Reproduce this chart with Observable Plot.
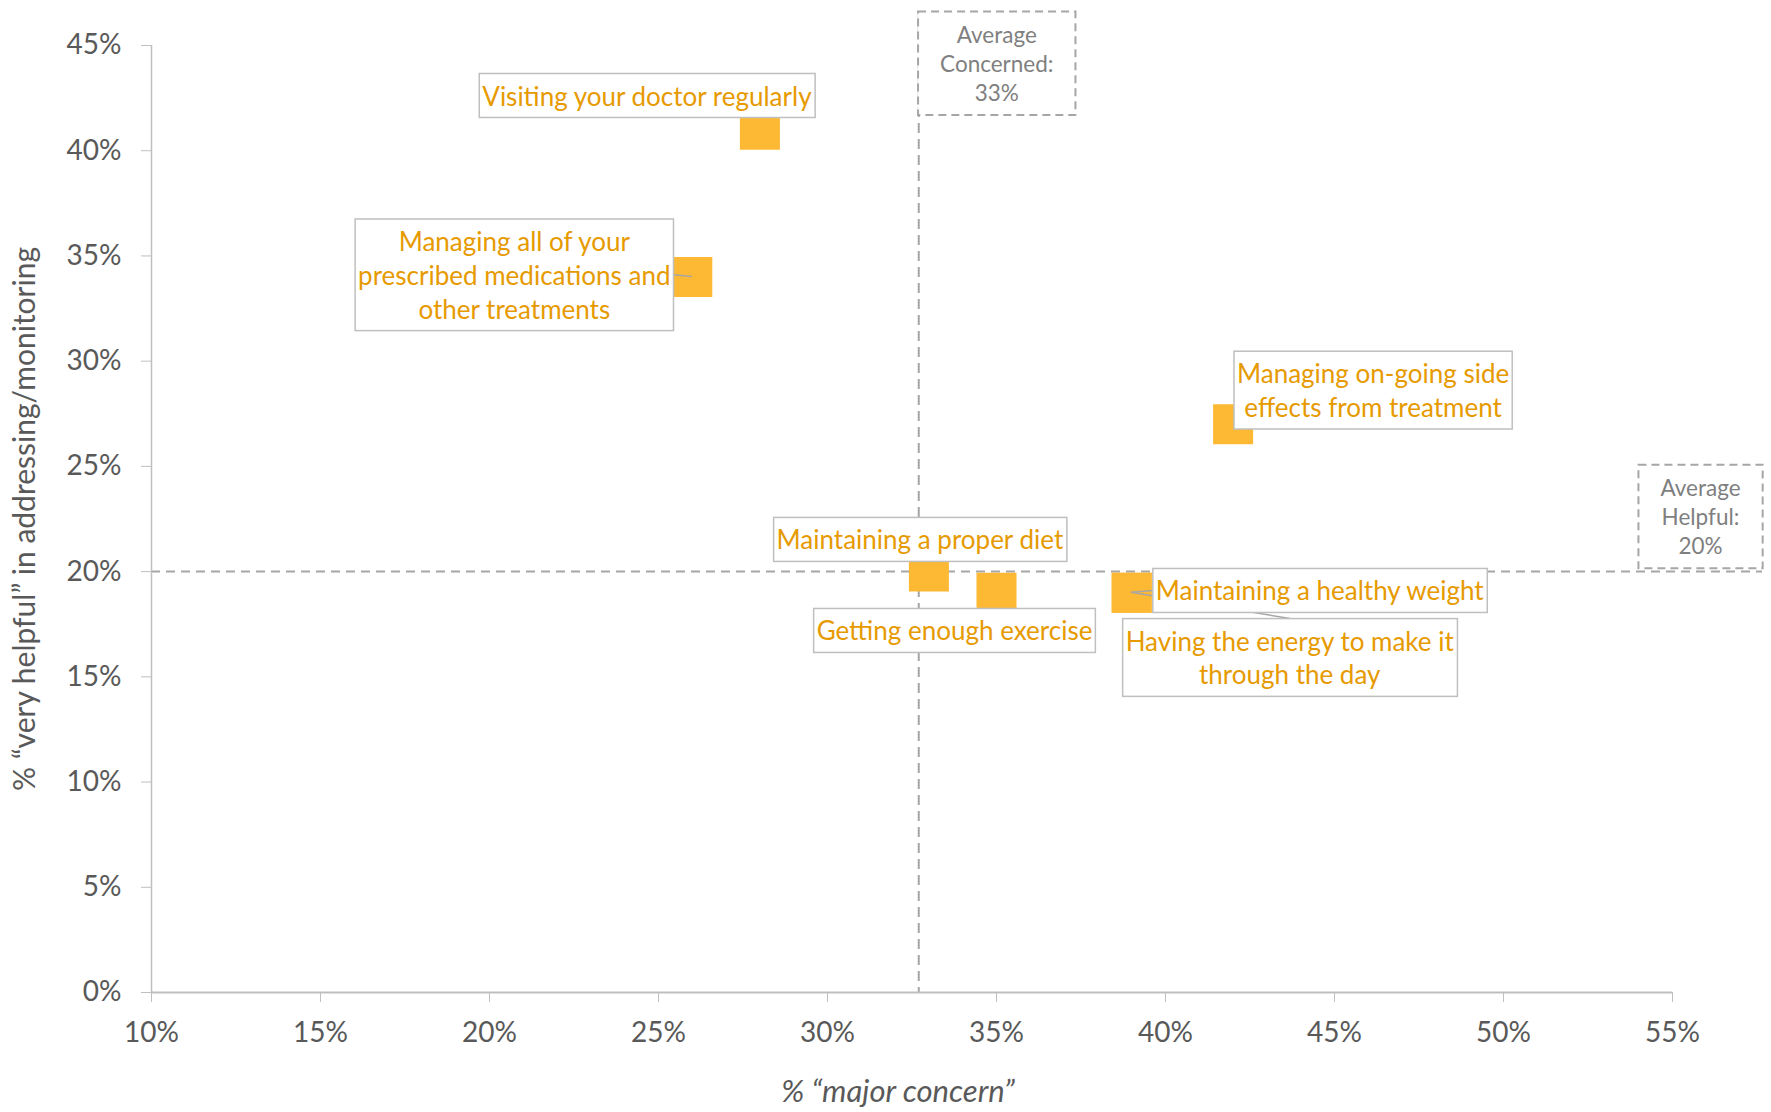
<!DOCTYPE html>
<html><head><meta charset="utf-8">
<script src="https://cdn.jsdelivr.net/npm/d3@7"></script>
<script src="https://cdn.jsdelivr.net/npm/@observablehq/plot@0.6"></script>
<style>body{margin:0;background:#fff} svg{display:block}</style>
</head><body><div id="chart"></div>
<script>
// ---- data ----
const items = [
  "Visiting your doctor regularly",
  "Managing all of your\nprescribed medications and\nother treatments",
  "Managing on-going side\neffects from treatment",
  "Maintaining a proper diet",
  "Getting enough exercise",
  "Maintaining a healthy weight",
  "Having the energy to make it\nthrough the day"
];
const majorConcern = [28, 26, 42, 33, 35, 39, 39];
const veryHelpful  = [41, 34, 27, 20, 19, 19, 19];
const avgConcerned = 32.7;
const avgHelpful = 20;
const xTicks = [10, 15, 20, 25, 30, 35, 40, 45, 50, 55];
const yTicks = [0, 5, 10, 15, 20, 25, 30, 35, 40, 45];
const xLabel = "% \u201cmajor concern\u201d";
const yLabel = "% \u201cvery helpful\u201d in addressing/monitoring";

// ---- layout (pixel offsets of each data label from its point) ----
const labelLayout = [
  {dx: -113, dy: -35, leader: false},
  {dx: -178, dy: -3,  leader: true},
  {dx: 140,  dy: -35, leader: false},
  {dx: -9,   dy: -33, leader: false},
  {dx: -42,  dy: 37,  leader: false},
  {dx: 188,  dy: -3,  leader: true},
  {dx: 158,  dy: 64,  leader: true}
];

const data = items.map((name, i) => ({name, concern: majorConcern[i], helpful: veryHelpful[i]}));

const labelColor = "#E69A00";
const markerColor = "#FDB933";
const axisGray = "#BFBFBF";
const dashGray = "#A6A6A6";
const textGray = "#595959";
const avgTextGray = "#7F7F7F";
const font = "Lato";

const svg = Plot.plot({
  width: 1771,
  height: 1112,
  marginLeft: 151,
  marginRight: 99,
  marginTop: 45,
  marginBottom: 120,
  style: {fontFamily: font, background: "#fff", color: textGray},
  x: {domain: [10, 55]},
  y: {domain: [0, 45]},
  marks: [
    Plot.ruleY([avgHelpful], {y: d => d, stroke: dashGray, strokeWidth: 2, strokeDasharray: "9,6", insetRight: -90}),
    Plot.ruleX([avgConcerned], {x: d => d, stroke: dashGray, strokeWidth: 2, strokeDasharray: "10,6", insetTop: -34}),
    Plot.ruleX([10], {stroke: axisGray, strokeWidth: 1.5}),
    Plot.ruleY([0], {stroke: axisGray, strokeWidth: 2}),
    Plot.axisX({ticks: xTicks, tickSize: 10, tickPadding: 20, tickFormat: d => d + "%", fontSize: 28, label: null, stroke: axisGray, fill: textGray}),
    Plot.axisY({ticks: yTicks, tickSize: 10, tickPadding: 20, tickFormat: d => d + "%", fontSize: 28, label: null, stroke: axisGray, fill: textGray}),
    Plot.dot(data, {x: "concern", y: "helpful", symbol: "square", r: 22.57, fill: markerColor}),
    ...data.map((d, i) => Plot.text([d], {
      x: "concern", y: "helpful", text: "name",
      dx: labelLayout[i].dx, dy: labelLayout[i].dy,
      fill: labelColor, fontSize: 26, lineHeight: 1.3,
      textAnchor: "middle", lineAnchor: "middle", ariaDescription: "point-label"
    })),
    Plot.text([avgConcerned], {
      x: d => d, frameAnchor: "top", dx: 78, dy: 17,
      text: d => `Average\nConcerned:\n${Math.round(d)}%`,
      fill: avgTextGray, fontSize: 22.5, lineHeight: 1.3,
      textAnchor: "middle", lineAnchor: "middle", ariaDescription: "avg-label"
    }),
    Plot.text([avgHelpful], {
      y: d => d, frameAnchor: "right", dx: 28, dy: -56,
      text: d => `Average\nHelpful:\n${Math.round(d)}%`,
      fill: avgTextGray, fontSize: 22.5, lineHeight: 1.3,
      textAnchor: "middle", lineAnchor: "middle", ariaDescription: "avg-label"
    }),
    Plot.text([yLabel], {
      text: d => d, frameAnchor: "left", rotate: -90, dx: -126,
      textAnchor: "middle", lineAnchor: "middle", fontSize: 30, fill: textGray
    }),
    Plot.text([xLabel], {
      text: d => d, frameAnchor: "bottom", dx: -14, dy: 100,
      textAnchor: "middle", lineAnchor: "middle", fontSize: 31, fontStyle: "italic", fill: textGray
    })
  ]
});
document.getElementById("chart").append(svg);

// ---- label boxes and leader lines ----
const X = svg.scale("x"), Y = svg.scale("y");
const sr = svg.getBoundingClientRect();
function boxOf(el, padX, padY) {
  const r = el.getBoundingClientRect();
  return {x0: r.left - sr.left - padX, x1: r.right - sr.left + padX,
          y0: r.top - sr.top - padY, y1: r.bottom - sr.top + padY};
}
const ns = "http://www.w3.org/2000/svg";
const labelGroups = Array.from(svg.querySelectorAll('g[aria-description="point-label"]'));
if (labelGroups.length) {
  const leaderG = document.createElementNS(ns, "g");
  const boxG = document.createElementNS(ns, "g");
  labelGroups[0].parentNode.insertBefore(leaderG, labelGroups[0]);
  labelGroups[0].parentNode.insertBefore(boxG, labelGroups[0]);
  labelGroups.forEach((g, i) => {
    const b = boxOf(g.querySelector("text"), 3, 6);
    d3.select(boxG).append("rect")
      .attr("x", b.x0).attr("y", b.y0).attr("width", b.x1 - b.x0).attr("height", b.y1 - b.y0)
      .attr("fill", "#fff").attr("stroke", axisGray).attr("stroke-width", 1.5);
    if (labelLayout[i].leader) {
      const px = X.apply(data[i].concern), py = Y.apply(data[i].helpful);
      const mx = (b.x0 + b.x1) / 2, my = (b.y0 + b.y1) / 2;
      let ax, ay;
      if (px < b.x0) { ax = b.x0; ay = my; }
      else if (px > b.x1) { ax = b.x1; ay = my; }
      else if (py < b.y0) { ax = mx; ay = b.y0; }
      else { ax = mx; ay = b.y1; }
      d3.select(leaderG).append("line")
        .attr("x1", px).attr("y1", py).attr("x2", ax).attr("y2", ay)
        .attr("stroke", dashGray).attr("stroke-width", 1.5);
    }
  });
}
svg.querySelectorAll('g[aria-description="avg-label"]').forEach(g => {
  const b = boxOf(g.querySelector("text"), 22, 9);
  const r = document.createElementNS(ns, "rect");
  d3.select(r).attr("x", b.x0).attr("y", b.y0).attr("width", b.x1 - b.x0).attr("height", b.y1 - b.y0)
    .attr("fill", "#fff").attr("stroke", dashGray).attr("stroke-width", 2).attr("stroke-dasharray", "8,5");
  g.parentNode.insertBefore(r, g);
});
</script>
</body></html>
